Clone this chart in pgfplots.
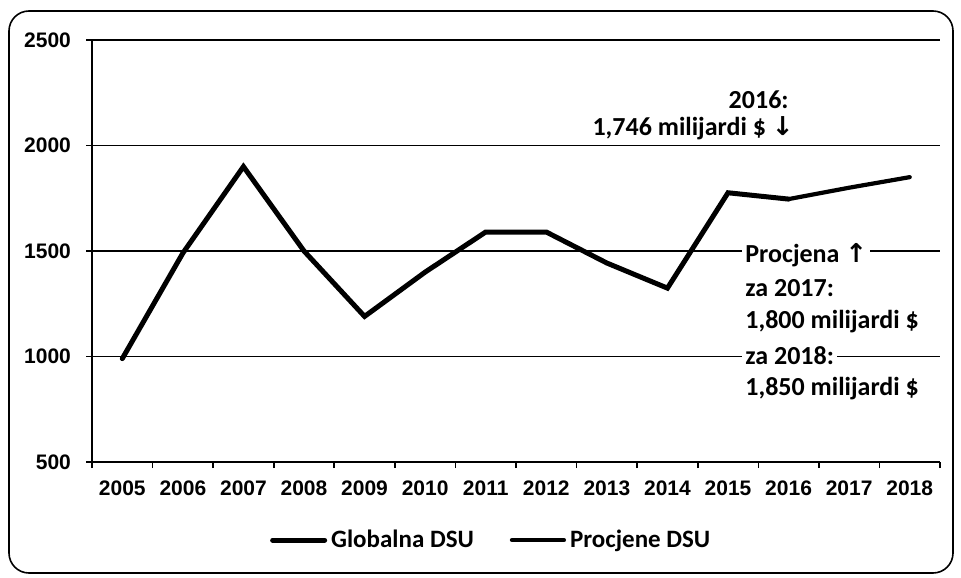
\documentclass[border=0pt]{standalone}
\usepackage{fontspec}
\setmainfont{Carlito}
\newfontfamily\tickfont{Liberation Sans}
\newfontfamily\symfont{DejaVu Sans}
\usepackage{pgfplots}
\pgfplotsset{compat=1.18}
\begin{document}
\begin{tikzpicture}[x=1pt,y=1pt]
\useasboundingbox (0,0) rectangle (480.5,-288.5);
\draw[line width=0.8pt, rounded corners=10pt] (4.5,-5.5) rectangle (476.5,-286.5);
\begin{axis}[
  at={(46pt,-231pt)}, anchor=south west,
  scale only axis, width=424pt, height=211pt,
  xmin=-0.5, xmax=13.5, ymin=500, ymax=2500,
  xtick={0,1,2,3,4,5,6,7,8,9,10,11,12,13},
  xticklabels={2005,2006,2007,2008,2009,2010,2011,2012,2013,2014,2015,2016,2017,2018},
  minor xtick={-0.5,0.5,1.5,2.5,3.5,4.5,5.5,6.5,7.5,8.5,9.5,10.5,11.5,12.5,13.5},
  major x tick style={draw=none},
  ytick={500,1000,1500,2000,2500},
  yticklabels={500,1000,1500,2000,2500},
  tick align=outside, major tick length=3pt, minor tick length=3pt,
  tick style={black, line width=0.8pt},
  ymajorgrids, grid style={black, line width=0.6pt},
  axis x line*=bottom, axis y line*=left,
  axis line style={black, line width=1pt},
  ticklabel style={font=\tickfont\bfseries\fontsize{10.5}{12}\selectfont},
  yticklabel style={xshift=-4pt},
  xticklabel style={yshift=-3pt},
  legend columns=2,
  legend style={at={(0.472,-0.185)}, anchor=center, draw=none, fill=none,
    font=\bfseries\fontsize{12.5}{14}\selectfont,
    /tikz/every even column/.append style={column sep=16pt}},
  legend image code/.code={\draw[#1] (0pt,0pt) -- (26pt,0pt);},
  clip=false,
]
\addplot[black, line width=2.5pt, line join=miter, line cap=round]
  coordinates {(0,990)(1,1490)(2,1900)(3,1500)(4,1190)(5,1400)(6,1590)(7,1590)(8,1443)(9,1324)(10,1776)(11,1746)};
\addlegendentry{Globalna DSU}
\addplot[black, line width=2.1pt, line cap=round]
  coordinates {(11,1746)(12,1800)(13,1850)};
\addlegendentry{Procjene DSU}
\end{axis}
\begin{scope}[every node/.style={font=\bfseries\fontsize{13}{15}\selectfont, inner sep=1.5pt}]
\node[anchor=east] at (396,-50) {2016:};
\node[anchor=east, fill=white] at (398.5,-64) {1,746 milijardi \$ {\symfont\bfseries ↓}};
\node[anchor=west, fill=white] at (371,-127.5) {Procjena {\symfont\bfseries ↑}};
\node[anchor=west] at (371,-144) {za 2017:};
\node[anchor=west] at (371,-161) {1,800 milijardi \$};
\node[anchor=west, fill=white] at (371,-178) {za 2018:};
\node[anchor=west] at (371,-194.5) {1,850 milijardi \$};
\end{scope}
\end{tikzpicture}
\end{document}
